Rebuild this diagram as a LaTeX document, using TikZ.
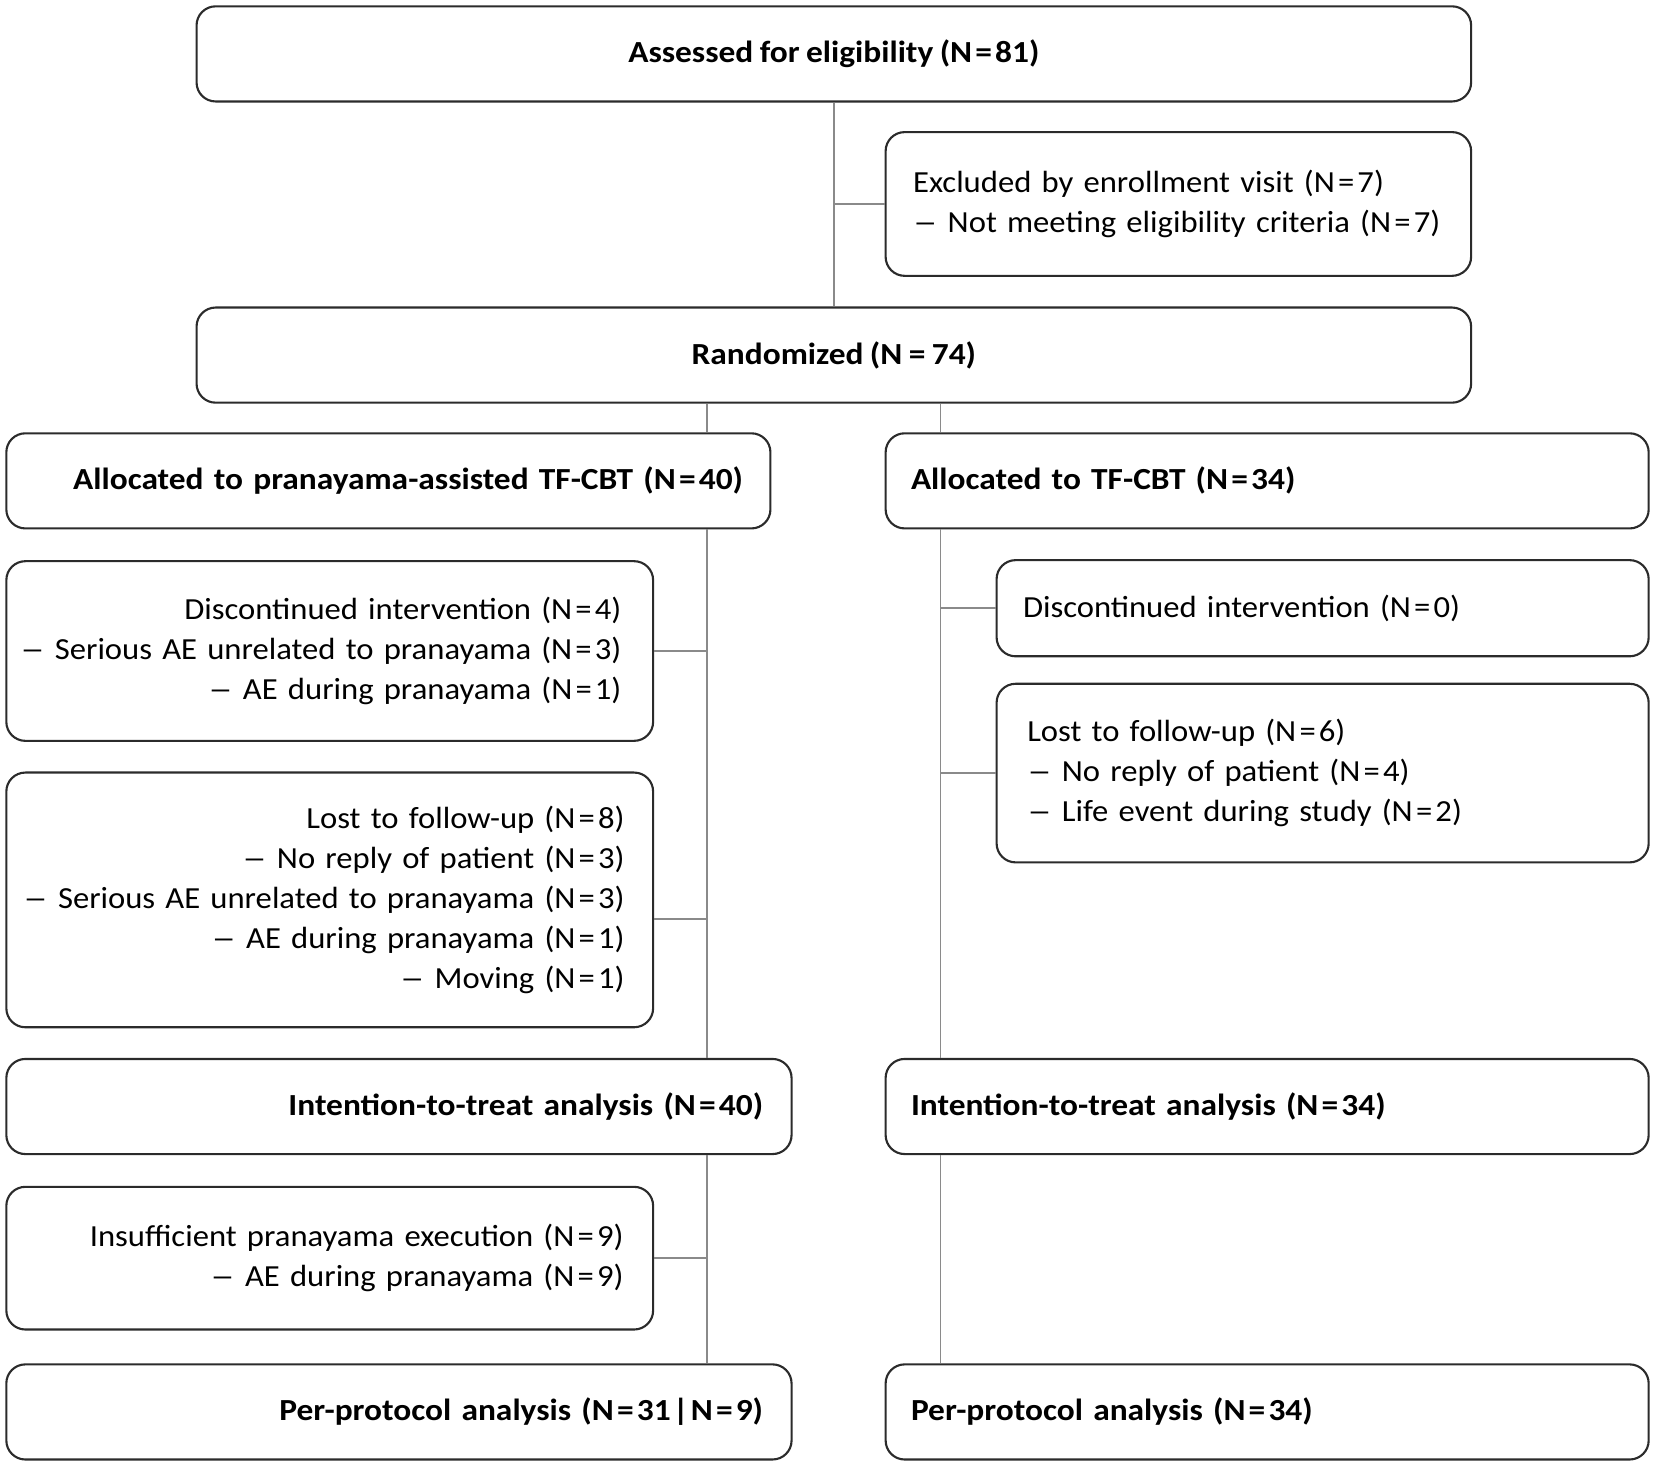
\documentclass[tikz,border=0pt]{standalone}
\usepackage{fontspec}
\setmainfont{Carlito}[FakeStretch=1.065, WordSpace=0.85, BoldFeatures={FakeStretch=1.09}]
\definecolor{boxc}{HTML}{2B2B2B}
\definecolor{connc}{HTML}{8A8A8A}
\newcommand{\eqn}[1]{N\kern3pt=\kern3pt#1}
\newcommand{\dsh}{\scalebox{1.5}[1]{--}}
\newcommand{\myR}[1]{\noindent\hbox to\hsize{\hss#1}}
\newcommand{\myL}[1]{\noindent\hbox to\hsize{#1\hss}}
\begin{document}
\begin{tikzpicture}[x=1pt,y=-1pt,
  box/.style={draw=boxc, line width=2pt, rounded corners=18pt, inner ysep=0pt,
    font=\fontsize{29}{38}\selectfont, text=black},
  bbox/.style={box, font=\fontsize{29}{38}\selectfont\bfseries},
  rtext/.style={align=right},
  ltext/.style={align=left},
  conn/.style={draw=connc, line width=1.5pt}]
\useasboundingbox (0,0) rectangle (1566,1387);
\coordinate (xl) at (669,0);
\coordinate (xr) at (890,0);

\node[bbox, minimum width=1206pt, minimum height=90pt] (A) at (789,51) {Assessed for eligibility (\eqn{81})};
\node[box, ltext, inner xsep=26pt, text width=502pt, minimum height=136pt] (Excl) at (1115,193)
  {\myL{Excluded by enrollment visit (\eqn{7})}\\ \myL{\dsh{} Not meeting eligibility criteria (\eqn{7})}};
\node[bbox, minimum width=1206pt, minimum height=90pt] (Rand) at (789,336) {Randomized (N = 74)};

\node[bbox, rtext, inner xsep=26pt, text width=671pt, minimum height=90pt] (AllocL) at (367.5,455)
  {\myR{Allocated to pranayama-assisted TF-CBT (\eqn{40})}};
\node[bbox, ltext, inner xsep=24pt, text width=674pt, minimum height=90pt] (AllocR) at (1199,455)
  {\myL{Allocated to TF-CBT (\eqn{34})}};

\node[box, rtext, inner xsep=30pt, text width=552pt, minimum height=170pt] (DiscL) at (312,616)
  {\myR{Discontinued intervention (\eqn{4})}\\ \myR{\dsh{} Serious AE unrelated to pranayama (\eqn{3})}\\ \myR{\dsh{} AE during pranayama (\eqn{1})}};
\node[box, rtext, inner xsep=27pt, text width=558pt, minimum height=241pt] (LostL) at (312,851.5)
  {\myR{Lost to follow-up (\eqn{8})}\\ \myR{\dsh{} No reply of patient (\eqn{3})}\\ \myR{\dsh{} Serious AE unrelated to pranayama (\eqn{3})}\\ \myR{\dsh{} AE during pranayama (\eqn{1})}\\ \myR{\dsh{} Moving (\eqn{1})}};
\coordinate (LostLb) at ([yshift=-18pt]LostL.east);

\node[box, ltext, inner xsep=25pt, text width=567pt, minimum height=91pt] (DiscR) at (1251.5,575.5)
  {\myL{Discontinued intervention (\eqn{0})}};
\node[box, ltext, inner xsep=29pt, text width=559pt, minimum height=169pt] (LostR) at (1251.5,731.5)
  {\myL{Lost to follow-up (\eqn{6})}\\ \myL{\dsh{} No reply of patient (\eqn{4})}\\ \myL{\dsh{} Life event during study (\eqn{2})}};

\node[bbox, rtext, inner xsep=27pt, text width=689pt, minimum height=90pt] (ITTL) at (377.5,1047)
  {\myR{Intention-to-treat analysis (\eqn{40})}};
\node[bbox, ltext, inner xsep=24pt, text width=674pt, minimum height=90pt] (ITTR) at (1199,1047)
  {\myL{Intention-to-treat analysis (\eqn{34})}};

\node[box, rtext, inner xsep=28pt, text width=556pt, minimum height=135pt] (InsL) at (312,1190.5)
  {\myR{Insufficient pranayama execution (\eqn{9})}\\ \myR{\dsh{} AE during pranayama (\eqn{9})}};

\node[bbox, rtext, inner xsep=27pt, text width=689pt, minimum height=90pt] (PPL) at (377.5,1336)
  {\myR{Per-protocol analysis (\eqn{31}\kern2pt|\kern2pt\eqn{9})}};
\node[bbox, ltext, inner xsep=24pt, text width=674pt, minimum height=90pt] (PPR) at (1199,1336)
  {\myL{Per-protocol analysis (\eqn{34})}};

% connectors
\draw[conn] (A.south) -- (Rand.north);
\draw[conn] (A.south |- Excl.west) -- (Excl.west);
\draw[conn] (xl |- Rand.south) -- (xl |- AllocL.north);
\draw[conn] (xr |- Rand.south) -- (xr |- AllocR.north);
\draw[conn] (xl |- AllocL.south) -- (xl |- ITTL.north);
\draw[conn] (xr |- AllocR.south) -- (xr |- ITTR.north);
\draw[conn] (DiscL.east) -- (xl |- DiscL.east);
\draw[conn] (LostLb) -- (xl |- LostLb);
\draw[conn] (xr |- DiscR.west) -- (DiscR.west);
\draw[conn] (xr |- LostR.west) -- (LostR.west);
\draw[conn] (xl |- ITTL.south) -- (xl |- PPL.north);
\draw[conn] (xr |- ITTR.south) -- (xr |- PPR.north);
\draw[conn] (InsL.east) -- (xl |- InsL.east);
\end{tikzpicture}
\end{document}
